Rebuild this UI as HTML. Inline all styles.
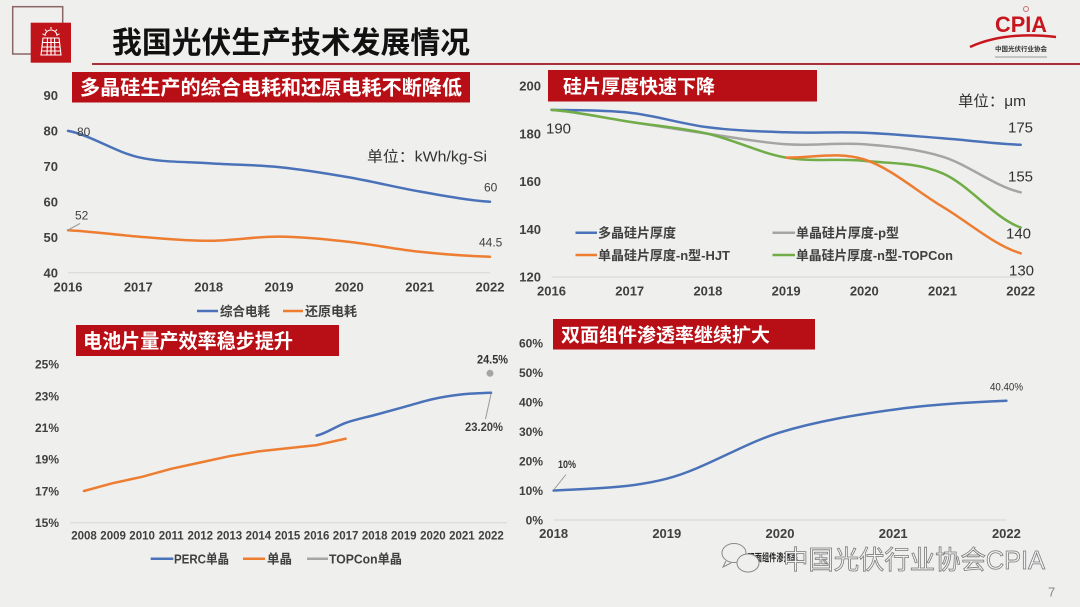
<!DOCTYPE html>
<html><head><meta charset="utf-8"><style>
html,body{margin:0;padding:0;background:#efefee;}
svg{display:block;font-family:"Liberation Sans","Noto Sans CJK SC",sans-serif;}
</style></head><body>
<svg width="1080" height="607" viewBox="0 0 1080 607" xmlns="http://www.w3.org/2000/svg">
<rect width="1080" height="607" fill="#efefee"/>

<!-- header icon -->
<rect x="12.7" y="6.7" width="50" height="47.3" fill="none" stroke="#8c6565" stroke-width="1.5"/>
<rect x="30.7" y="22.7" width="40.3" height="40" fill="#c0141b"/>
<g stroke="#fff" stroke-width="1.1" fill="none">
<path d="M45,36 A6,6 0 0 1 57,36"/>
<path d="M51,27 V29 M45,29.5 L46.5,31 M57,29.5 L55.5,31 M42.5,34 L44.5,34.5 M59.5,34 L57.5,34.5"/>
<path d="M43,38 H59 L61,55 H41 Z"/>
<path d="M42.4,42.5 H59.6 M41.9,47 H60.1 M41.4,51 H60.6 M47.5,38 L47,55 M51,38 V55 M54.5,38 L55,55"/>
</g>
<!-- title -->
<text x="112" y="53" font-size="30" font-weight="bold" fill="#111" textLength="358" lengthAdjust="spacingAndGlyphs">我国光伏生产技术发展情况</text>
<line x1="92" y1="64" x2="1080" y2="64" stroke="#a8303a" stroke-width="2"/>

<!-- CPIA logo -->
<text x="995" y="32" font-size="22" font-weight="bold" fill="#c8161e" textLength="52" lengthAdjust="spacingAndGlyphs">CPIA</text>
<path d="M970,47 Q1005,31 1056,37" stroke="#c8161e" stroke-width="2.5" fill="none"/>
<circle cx="1026" cy="9" r="2.5" fill="none" stroke="#c87070" stroke-width="1"/>
<text x="995" y="51" font-size="6.5" font-weight="bold" fill="#333" textLength="52" lengthAdjust="spacingAndGlyphs">中国光伏行业协会</text>
<line x1="995" y1="57" x2="1047" y2="57" stroke="#aaa" stroke-width="1.2"/>

<!-- ============ Chart 1 ============ -->
<rect x="72" y="72" width="398" height="30.5" fill="#b80f16"/>
<text x="80" y="94.5" font-size="20" font-weight="bold" fill="#fff" textLength="382" lengthAdjust="spacingAndGlyphs">多晶硅生产的综合电耗和还原电耗不断降低</text>
<g font-size="13" font-weight="bold" fill="#404040" text-anchor="end">
<text x="58" y="100.2">90</text>
<text x="58" y="135.6">80</text>
<text x="58" y="171.1">70</text>
<text x="58" y="206.5">60</text>
<text x="58" y="241.9">50</text>
<text x="58" y="277.4">40</text>
</g>
<line x1="68" y1="272.7" x2="490" y2="272.7" stroke="#d6d6d6" stroke-width="1"/>
<g font-size="13" font-weight="bold" fill="#404040" text-anchor="middle">
<text x="68" y="291.4">2016</text>
<text x="138.3" y="291.4">2017</text>
<text x="208.7" y="291.4">2018</text>
<text x="279" y="291.4">2019</text>
<text x="349.3" y="291.4">2020</text>
<text x="419.7" y="291.4">2021</text>
<text x="490" y="291.4">2022</text>
</g>
<path d="M68,130.9 C91.4,135.3 114.9,151.8 138.3,157.2 C161.7,162.6 185.3,161.6 208.7,163.2 C232.1,164.8 255.6,164.7 279,167.1 C302.4,169.5 325.9,173.3 349.3,177.4 C372.7,181.5 396.3,187.4 419.7,191.5 C443.1,195.6 466.6,200.1 490,201.8" fill="none" stroke="#4a72b8" stroke-width="2.5" stroke-linecap="round"/>
<path d="M68,230.2 C91.4,231.3 114.9,234.8 138.3,236.6 C161.7,238.4 185.3,240.8 208.7,240.8 C232.1,240.8 255.6,236.4 279,236.6 C302.4,236.8 325.9,239.4 349.3,241.9 C372.7,244.4 396.3,249.3 419.7,251.8 C443.1,254.3 466.6,256.0 490,256.8" fill="none" stroke="#ed7d31" stroke-width="2.5" stroke-linecap="round"/>
<g font-size="12" fill="#404040">
<text x="77" y="136">80</text>
<text x="75" y="219.3">52</text>
<text x="484" y="191.3">60</text>
<text x="479" y="246.3">44.5</text>
</g>
<line x1="68" y1="230" x2="80" y2="223.5" stroke="#999" stroke-width="1"/>
<text x="367" y="161.5" font-size="15" fill="#333" textLength="120" lengthAdjust="spacingAndGlyphs">单位：kWh/kg-Si</text>
<line x1="197" y1="311" x2="218" y2="311" stroke="#4a72b8" stroke-width="2.5"/>
<text x="220" y="315.8" font-size="13" font-weight="bold" fill="#404040" textLength="50" lengthAdjust="spacingAndGlyphs">综合电耗</text>
<line x1="283" y1="311" x2="303" y2="311" stroke="#ed7d31" stroke-width="2.5"/>
<text x="305" y="315.8" font-size="13" font-weight="bold" fill="#404040" textLength="52" lengthAdjust="spacingAndGlyphs">还原电耗</text>

<!-- ============ Chart 2 ============ -->
<rect x="548" y="70" width="269" height="31.5" fill="#b80f16"/>
<text x="563" y="93" font-size="19" font-weight="bold" fill="#fff" textLength="152" lengthAdjust="spacingAndGlyphs">硅片厚度快速下降</text>
<g font-size="13" font-weight="bold" fill="#404040" text-anchor="end">
<text x="541" y="90.7">200</text>
<text x="541" y="138.4">180</text>
<text x="541" y="186.2">160</text>
<text x="541" y="233.9">140</text>
<text x="541" y="281.7">120</text>
</g>
<line x1="551.5" y1="277" x2="1022" y2="277" stroke="#d6d6d6" stroke-width="1"/>
<g font-size="13" font-weight="bold" fill="#404040" text-anchor="middle">
<text x="551.5" y="295.4">2016</text>
<text x="629.7" y="295.4">2017</text>
<text x="707.9" y="295.4">2018</text>
<text x="786.1" y="295.4">2019</text>
<text x="864.3" y="295.4">2020</text>
<text x="942.5" y="295.4">2021</text>
<text x="1020.7" y="295.4">2022</text>
</g>
<path d="M551.5,109.9 C577.6,110.4 603.6,109.8 629.7,112.7 C655.8,115.6 681.8,124.0 707.9,127.3 C734,130.6 760,131.4 786.1,132.3 C812.2,133.2 838.2,131.7 864.3,132.7 C890.4,133.7 916.4,136.3 942.5,138.3 C968.6,140.3 994.6,143.7 1020.7,144.8" fill="none" stroke="#4a72b8" stroke-width="2.5" stroke-linecap="round"/>
<path d="M551.5,109.9 C577.6,111.9 603.6,117.8 629.7,121.8 C655.8,125.8 681.8,130.0 707.9,133.75 C734,137.5 760,142.5 786.1,144.3 C812.2,146.1 838.2,142.2 864.3,144.3 C890.4,146.4 916.4,148.7 942.5,156.7 C968.6,164.7 994.6,186.4 1020.7,192.3" fill="none" stroke="#a5a5a5" stroke-width="2.5" stroke-linecap="round"/>
<path d="M551.5,109.9 C577.6,111.9 603.6,117.8 629.7,121.8 C655.8,125.8 681.8,127.8 707.9,133.75 C734,139.7 760,153.1 786.1,157.6 C812.2,162.1 838.2,158.3 864.3,160.9 C890.4,163.5 916.4,162.2 942.5,173.3 C968.6,184.4 994.6,218.5 1020.7,227.5" fill="none" stroke="#70ad47" stroke-width="2.5" stroke-linecap="round"/>
<path d="M786.1,157.6 C812.2,157.9 838.2,151.3 864.3,159.5 C890.4,167.7 916.4,191.1 942.5,206.7 C968.6,222.3 994.6,245.5 1020.7,253.3" fill="none" stroke="#ed7d31" stroke-width="2.5" stroke-linecap="round"/>
<g font-size="15" fill="#333">
<text x="546" y="133.4">190</text>
<text x="1008" y="132.4">175</text>
<text x="1008" y="181.4">155</text>
<text x="1006" y="238.4">140</text>
<text x="1009" y="275.4">130</text>
</g>
<text x="958" y="106" font-size="15" fill="#333" textLength="68" lengthAdjust="spacingAndGlyphs">单位：μm</text>
<g font-size="13" font-weight="bold" fill="#404040">
<line x1="575.5" y1="232.7" x2="597" y2="232.7" stroke="#4a72b8" stroke-width="2.5"/>
<text x="598" y="237.5" textLength="78" lengthAdjust="spacingAndGlyphs">多晶硅片厚度</text>
<line x1="772.5" y1="232.7" x2="795" y2="232.7" stroke="#a5a5a5" stroke-width="2.5"/>
<text x="796" y="237.5" textLength="103" lengthAdjust="spacingAndGlyphs">单晶硅片厚度-p型</text>
<line x1="575.5" y1="255" x2="597" y2="255" stroke="#ed7d31" stroke-width="2.5"/>
<text x="598" y="259.8" textLength="132" lengthAdjust="spacingAndGlyphs">单晶硅片厚度-n型-HJT</text>
<line x1="772.5" y1="255" x2="795" y2="255" stroke="#70ad47" stroke-width="2.5"/>
<text x="796" y="259.8" textLength="157" lengthAdjust="spacingAndGlyphs">单晶硅片厚度-n型-TOPCon</text>
</g>

<!-- ============ Chart 3 ============ -->
<rect x="76" y="325" width="263" height="31" fill="#b80f16"/>
<text x="83" y="348" font-size="20" font-weight="bold" fill="#fff" textLength="210" lengthAdjust="spacingAndGlyphs">电池片量产效率稳步提升</text>
<g font-size="12" font-weight="bold" fill="#404040" text-anchor="end">
<text x="59" y="368.6">25%</text>
<text x="59" y="400.3">23%</text>
<text x="59" y="432">21%</text>
<text x="59" y="463.6">19%</text>
<text x="59" y="495.3">17%</text>
<text x="59" y="527">15%</text>
</g>
<line x1="70" y1="522.7" x2="507" y2="522.7" stroke="#d6d6d6" stroke-width="1"/>
<g font-size="11.5" font-weight="bold" fill="#404040" text-anchor="middle">
<text x="84" y="539.5">2008</text>
<text x="113.1" y="539.5">2009</text>
<text x="142.1" y="539.5">2010</text>
<text x="171.2" y="539.5">2011</text>
<text x="200.3" y="539.5">2012</text>
<text x="229.4" y="539.5">2013</text>
<text x="258.4" y="539.5">2014</text>
<text x="287.5" y="539.5">2015</text>
<text x="316.6" y="539.5">2016</text>
<text x="345.6" y="539.5">2017</text>
<text x="374.7" y="539.5">2018</text>
<text x="403.8" y="539.5">2019</text>
<text x="432.9" y="539.5">2020</text>
<text x="461.9" y="539.5">2021</text>
<text x="491" y="539.5">2022</text>
</g>
<polyline points="84,491 113.1,483.1 142.1,476.8 171.2,468.8 200.3,462.5 229.4,456.2 258.4,451.4 287.5,448.3 316.6,445.1 345.6,438.7" fill="none" stroke="#ed7d31" stroke-width="2.5" stroke-linejoin="round" stroke-linecap="round"/>
<path d="M316.6,435.6 C326.3,433.5 335.9,426.3 345.6,422.9 C355.3,419.5 365,417.6 374.7,415.0 C384.4,412.4 394.1,409.8 403.8,407.1 C413.5,404.4 423.2,401.2 432.9,399.1 C442.6,397.0 452.2,395.4 461.9,394.4 C471.6,393.4 481.3,393.1 491,392.8" fill="none" stroke="#4a72b8" stroke-width="2.5" stroke-linecap="round"/>
<circle cx="490" cy="373.3" r="3.5" fill="#a5a5a5"/>
<text x="477" y="363.6" font-size="12" font-weight="bold" fill="#333" textLength="31" lengthAdjust="spacingAndGlyphs">24.5%</text>
<line x1="491" y1="394" x2="485.5" y2="419" stroke="#999" stroke-width="1"/>
<text x="465" y="431" font-size="12" font-weight="bold" fill="#404040" textLength="38" lengthAdjust="spacingAndGlyphs">23.20%</text>
<g font-size="13" font-weight="bold" fill="#404040">
<line x1="150.7" y1="558.7" x2="173.3" y2="558.7" stroke="#4a72b8" stroke-width="2.5"/>
<text x="174" y="563.4" textLength="55" lengthAdjust="spacingAndGlyphs">PERC单晶</text>
<line x1="243" y1="558.7" x2="265" y2="558.7" stroke="#ed7d31" stroke-width="2.5"/>
<text x="267" y="563.4" textLength="25" lengthAdjust="spacingAndGlyphs">单晶</text>
<line x1="307" y1="558.7" x2="328" y2="558.7" stroke="#a5a5a5" stroke-width="2.5"/>
<text x="329" y="563.4" textLength="73" lengthAdjust="spacingAndGlyphs">TOPCon单晶</text>
</g>

<!-- ============ Chart 4 ============ -->
<rect x="553" y="319" width="262" height="30.5" fill="#b80f16"/>
<text x="561" y="341.5" font-size="19" font-weight="bold" fill="#fff" textLength="209" lengthAdjust="spacingAndGlyphs">双面组件渗透率继续扩大</text>
<g font-size="12" font-weight="bold" fill="#404040" text-anchor="end">
<text x="543" y="347.3">60%</text>
<text x="543" y="376.8">50%</text>
<text x="543" y="406.3">40%</text>
<text x="543" y="435.8">30%</text>
<text x="543" y="465.3">20%</text>
<text x="543" y="494.8">10%</text>
<text x="543" y="524.3">0%</text>
</g>
<line x1="553.6" y1="520" x2="1006.4" y2="520" stroke="#d6d6d6" stroke-width="1"/>
<g font-size="13" font-weight="bold" fill="#404040" text-anchor="middle">
<text x="553.6" y="538">2018</text>
<text x="666.8" y="538">2019</text>
<text x="780" y="538">2020</text>
<text x="893.2" y="538">2021</text>
<text x="1006.4" y="538">2022</text>
</g>
<path d="M553.6,490.5 C591.3,488.5 629.1,488.4 666.8,478.7 C704.5,469.0 742.3,443.9 780,432.4 C817.7,420.9 855.5,414.97 893.2,409.7 C930.9,404.4 968.7,402.3 1006.4,400.8" fill="none" stroke="#4a72b8" stroke-width="2.5" stroke-linecap="round"/>
<line x1="553.6" y1="490" x2="566" y2="474.5" stroke="#999" stroke-width="1"/>
<text x="558" y="468" font-size="11" font-weight="bold" fill="#333" textLength="18" lengthAdjust="spacingAndGlyphs">10%</text>
<text x="990" y="390.7" font-size="11" fill="#333" textLength="33" lengthAdjust="spacingAndGlyphs">40.40%</text>

<!-- legend (partly hidden) + watermark -->
<text x="743" y="561" font-size="10.5" font-weight="bold" fill="#222" textLength="55" lengthAdjust="spacingAndGlyphs">• 双面组件渗透率</text>
<g fill="none" stroke="#8a8a8a" stroke-width="1">
<ellipse cx="734" cy="553" rx="12" ry="9.5"/>
<ellipse cx="748" cy="563" rx="11" ry="9" fill="#efefee"/>
<path d="M726,561 L723,567 L731,563"/>
</g>
<text x="783" y="569" font-size="26" fill="#f2f2f2" stroke="#7a7a7a" stroke-width="0.8" textLength="262" lengthAdjust="spacingAndGlyphs">中国光伏行业协会CPIA</text>
<text x="1048" y="596.5" font-size="13" fill="#888">7</text>
</svg>
</body></html>
